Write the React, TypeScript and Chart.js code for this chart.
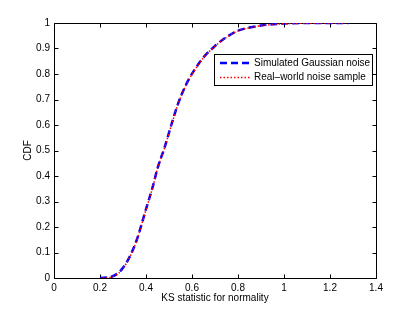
import React, { useEffect, useRef } from "react";
import { Chart, registerables } from "chart.js";

Chart.register(...registerables);

const simX = [0.2, 0.25, 0.28, 0.3, 0.33, 0.36, 0.4, 0.43, 0.45, 0.48, 0.51, 0.54, 0.575, 0.61, 0.65, 0.7, 0.75, 0.8, 0.85, 0.9, 0.95, 1.0, 1.1, 1.28];
const simY = [0, 0.005, 0.02, 0.04, 0.085, 0.15, 0.27, 0.36, 0.43, 0.51, 0.6, 0.685, 0.76, 0.815, 0.865, 0.91, 0.945, 0.97, 0.982, 0.99, 0.995, 0.998, 1.0, 1.0];
const realX = [0.21, 0.25, 0.28, 0.3, 0.33, 0.36, 0.4, 0.43, 0.45, 0.48, 0.51, 0.54, 0.575, 0.61, 0.65, 0.7, 0.75, 0.8, 0.85, 0.9, 0.95, 1.0, 1.1, 1.27];
const realY = [0, 0.004, 0.018, 0.038, 0.083, 0.148, 0.268, 0.358, 0.428, 0.508, 0.598, 0.683, 0.758, 0.813, 0.864, 0.909, 0.944, 0.969, 0.981, 0.989, 0.994, 0.997, 0.999, 1.0];
const xTicks = [0, 0.2, 0.4, 0.6, 0.8, 1, 1.2, 1.4];
const yTicks = [0, 0.1, 0.2, 0.3, 0.4, 0.5, 0.6, 0.7, 0.8, 0.9, 1];
const seriesNames = ["Simulated Gaussian noise", "Real\u2013world noise sample"];

const FONT = "'Liberation Sans', Arial, Helvetica, sans-serif";

const boxPlugin = {
  id: "matlabBox",
  beforeDatasetsDraw(chart: any) {
    const { ctx, chartArea: a, scales } = chart;
    ctx.save();
    ctx.strokeStyle = "#000";
    ctx.lineWidth = 1;
    const L = Math.round(a.left) + 0.5, R = Math.round(a.right) + 0.5;
    const T = Math.round(a.top) + 0.5, B = Math.round(a.bottom) + 0.5;
    ctx.beginPath();
    ctx.rect(L, T, R - L, B - T);
    ctx.stroke();
    const tl = 4;
    ctx.beginPath();
    for (const v of xTicks) {
      const x = Math.round(scales.x.getPixelForValue(v)) + 0.5;
      ctx.moveTo(x, B); ctx.lineTo(x, B - tl);
      ctx.moveTo(x, T); ctx.lineTo(x, T + tl);
    }
    for (const v of yTicks) {
      const y = Math.round(scales.y.getPixelForValue(v)) + 0.5;
      ctx.moveTo(L, y); ctx.lineTo(L + tl, y);
      ctx.moveTo(R, y); ctx.lineTo(R - tl, y);
    }
    ctx.stroke();
    ctx.restore();
  },
  afterDatasetsDraw(chart: any) {
    const { ctx } = chart;
    ctx.save();
    const bx = 214.5, by = 54.5, bw = 158, bh = 31;
    ctx.fillStyle = "#fff";
    ctx.fillRect(bx, by, bw, bh);
    ctx.strokeStyle = "#000";
    ctx.lineWidth = 1;
    ctx.strokeRect(bx, by, bw, bh);
    const rows = [
      { y: 63, color: "#0000ff", dash: [7, 4], width: 2.5 },
      { y: 77.5, color: "#ff0000", dash: [1.5, 2], width: 1.5 },
    ];
    rows.forEach((r, i) => {
      ctx.beginPath();
      ctx.setLineDash(r.dash);
      ctx.strokeStyle = r.color;
      ctx.lineWidth = r.width;
      ctx.moveTo(220, r.y);
      ctx.lineTo(250, r.y);
      ctx.stroke();
      ctx.setLineDash([]);
      ctx.fillStyle = "#000";
      ctx.font = `10px ${FONT}`;
      ctx.textBaseline = "middle";
      ctx.textAlign = "left";
      ctx.fillText(seriesNames[i], 254, r.y);
    });
    ctx.restore();
  },
};

export default function App() {
  const ref = useRef<HTMLCanvasElement>(null);
  useEffect(() => {
    document.body.style.margin = "0";
    const chart = new Chart(ref.current!, {
      type: "line",
      data: {
        datasets: [
          {
            label: seriesNames[0],
            data: simX.map((x, i) => ({ x, y: simY[i] })),
            borderColor: "#0000ff",
            borderWidth: 2.5,
            borderDash: [7, 4],
            pointRadius: 0,
            cubicInterpolationMode: "monotone",
            fill: false,
            order: 1,
          },
          {
            label: seriesNames[1],
            data: realX.map((x, i) => ({ x, y: realY[i] })),
            borderColor: "#ff0000",
            borderWidth: 1.5,
            borderDash: [1.5, 2],
            pointRadius: 0,
            cubicInterpolationMode: "monotone",
            fill: false,
            order: 0,
          },
        ],
      },
      options: {
        animation: false,
        responsive: true,
        maintainAspectRatio: false,
        layout: { padding: { left: 0, right: 39, top: 23, bottom: 0 } },
        plugins: { legend: { display: false }, tooltip: { enabled: false } },
        scales: {
          x: {
            type: "linear",
            min: 0,
            max: 1.4,
            afterBuildTicks: (s: any) => { s.ticks = xTicks.map((v) => ({ value: v })); },
            afterFit: (s: any) => { s.height = 34; },
            grid: { display: false, drawTicks: false },
            border: { display: false },
            ticks: { padding: 4, color: "#000", font: { family: FONT, size: 10 }, maxRotation: 0, callback: (v: any) => String(v) },
            title: { display: true, text: "KS statistic for normality", color: "#000", font: { family: FONT, size: 10 }, padding: { top: 0, bottom: 8 } },
          },
          y: {
            type: "linear",
            min: 0,
            max: 1,
            afterBuildTicks: (s: any) => { s.ticks = yTicks.map((v) => ({ value: v })); },
            afterFit: (s: any) => { s.width = 54; },
            grid: { display: false, drawTicks: false },
            border: { display: false },
            ticks: { padding: 4, color: "#000", font: { family: FONT, size: 10 }, callback: (v: any) => String(v) },
            title: { display: true, text: "CDF", color: "#000", font: { family: FONT, size: 10 }, padding: { top: 22, bottom: 0 } },
          },
        },
      },
      plugins: [boxPlugin],
    });
    return () => chart.destroy();
  }, []);
  return (
    <div style={{ position: "relative", width: 415, height: 312 }}>
      <canvas ref={ref} />
    </div>
  );
}
